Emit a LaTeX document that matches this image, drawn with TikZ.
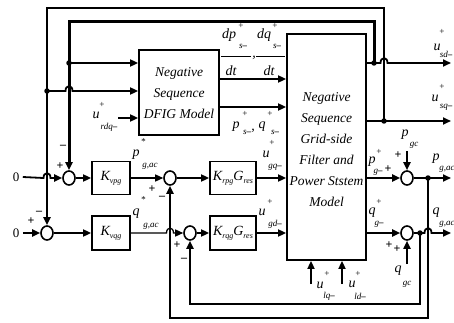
\documentclass[tikz,border=0pt]{standalone}
\usepackage{fontspec}
\setmainfont{Liberation Serif}
\usetikzlibrary{arrows.meta,shapes.geometric}
\begin{document}
\begin{tikzpicture}[x=1pt,y=-1pt,
 wire/.style={line width=1.8pt},
 arr/.style={wire,-{Triangle[length=8pt,width=7pt]}},
 blk/.style={draw,line width=1.8pt,inner sep=0},
 sumc/.style={draw,ellipse,line width=1.6pt,minimum width=12pt,minimum height=14pt,inner sep=0},
 dot/.style={circle,fill,inner sep=0,minimum size=5.5pt},
 big/.style={font=\fontsize{14}{14}\selectfont\itshape,inner sep=0},
 sml/.style={font=\fontsize{9}{9}\selectfont\itshape,inner sep=0},
 sgn/.style={font=\fontsize{12}{12}\selectfont\bfseries,inner sep=0},
 btxt/.style={font=\fontsize{13.5}{21}\selectfont\itshape,align=center,inner sep=0}
]
\useasboundingbox (0,0) rectangle (454,323);

% blocks
\node[blk,minimum width=80pt,minimum height=85pt] (dfig) at (179,92.5) {};
\node[btxt] (dfigt) at (179,93) {Negative\\Sequence\\DFIG Model};
\node[blk,minimum width=79pt,minimum height=226pt] (grid) at (326.5,147) {};
\node[btxt] (gridt) at (326.5,150) {Negative\\Sequence\\Grid-side\\Filter and\\Power Ststem\\Model};
\node[blk,minimum width=38pt,minimum height=33pt,font=\fontsize{14}{14}\selectfont\itshape] (kvpg) at (111,178) {K\raisebox{-3pt}{\fontsize{8}{8}\selectfont vpg}};
\node[blk,minimum width=38pt,minimum height=34pt,font=\fontsize{14}{14}\selectfont\itshape] (kvqg) at (111,233) {K\raisebox{-3pt}{\fontsize{8}{8}\selectfont vqg}};
\node[blk,minimum width=46pt,minimum height=33pt,font=\fontsize{14}{14}\selectfont\itshape] (krpg) at (233,178) {K\raisebox{-3pt}{\fontsize{8}{8}\selectfont rpg}G\raisebox{-3pt}{\fontsize{8}{8}\selectfont res}};
\node[blk,minimum width=46pt,minimum height=34pt,font=\fontsize{14}{14}\selectfont\itshape] (krqg) at (233,233) {K\raisebox{-3pt}{\fontsize{8}{8}\selectfont rqg}G\raisebox{-3pt}{\fontsize{8}{8}\selectfont res}};

% sums
\node[sumc] (s1) at (69,178) {};
\node[sumc] (s2) at (170,178) {};
\node[sumc] (s3) at (47,233) {};
\node[sumc] (s4) at (190,233) {};
\node[sumc] (s5) at (407,178) {};
\node[sumc] (s6) at (407,233) {};

% inputs
\node[font=\fontsize{13}{13}\selectfont] (z1) at (16,177) {0};
\node[font=\fontsize{13}{13}\selectfont] (z2) at (16,233) {0};

% helper coordinates
\coordinate (b1) at (69,63);
\coordinate (b2) at (47,91);
\coordinate (urdq) at (118,118);
\coordinate (y79) at (0,79);
\coordinate (y107) at (0,107);
\coordinate (usdd) at (374,63);
\coordinate (usqd) at (384,121);
\coordinate (usd) at (451,63);
\coordinate (usq) at (451,121);
\coordinate (pout) at (451,178);
\coordinate (qout) at (451,233);
\coordinate (pd) at (428,178);
\coordinate (qd) at (420,233);
\coordinate (pgc) at (407,151);
\coordinate (qgc) at (407,264);
\coordinate (ulq) at (311,284);
\coordinate (uld) at (342,284);

% top feedback loops
\draw[arr,line width=2.4pt] (usqd) -- (384,8) -- (47,8) -- (s3.north);
\draw[arr,line width=3pt] (usdd) -- (374,22) -- (69,22) -- (s1.north);

% into DFIG
\draw[arr] (b1) -- (b1 -| dfig.west);
\draw[arr] (b2) -- (65.5,91) .. controls (65.5,84.5) and (72.5,84.5) .. (72.5,91) -- (b2 -| dfig.west);
\draw[arr] (urdq) -- (urdq -| dfig.west);

% DFIG -> grid
\draw[arr] (dfig.east |- y79) -- (grid.west |- y79);
\draw[arr] (dfig.east |- y107) -- (grid.west |- y107);

% grid outputs
\draw[arr] (grid.east |- usd) -- (380.5,63) .. controls (380.5,56.5) and (387.5,56.5) .. (387.5,63) -- (usd);
\draw[arr] (grid.east |- usq) -- (usq);

% upper row
\draw[arr] (z1.east) -- (43.5,178) .. controls (43.5,171.5) and (50.5,171.5) .. (50.5,178) -- (s1);
\draw[arr] (s1) -- (kvpg);
\draw[arr,line width=1.3pt] (kvpg) -- (s2);
\draw[arr] (s2) -- (krpg);
\draw[arr] (krpg) -- (krpg -| grid.west);
\draw[arr] (grid.east |- s5) -- (s5);
\draw[arr] (s5) -- (pout);
\draw[arr] (pd) -- (428,318) -- (170,318) -- (s2.south);
\draw[arr] (pgc) -- (s5.north);

% lower row
\draw[arr] (z2.east) -- (s3);
\draw[arr] (s3) -- (kvqg);
\draw[arr,line width=1.3pt] (kvqg) -- (166.5,233) .. controls (166.5,226.5) and (173.5,226.5) .. (173.5,233) -- (s4);
\draw[arr] (s4) -- (krqg);
\draw[arr] (krqg) -- (krqg -| grid.west);
\draw[arr] (grid.east |- s6) -- (s6);
\draw[arr] (s6) -- (424.5,233) .. controls (424.5,226.5) and (431.5,226.5) .. (431.5,233) -- (qout);
\draw[arr] (qd) -- (420,304) -- (190,304) -- (s4.south);
\draw[arr] (qgc) -- (s6.south);

% bottom inputs
\draw[arr] (ulq) -- (ulq |- grid.south);
\draw[arr] (uld) -- (uld |- grid.south);

% dots
\foreach \p in {b1,b2,usdd,usqd,pd,qd} \node[dot] at (\p) {};

% signs
\node[sgn] at (63,147) {--};
\node[sgn] at (60,166) {+};
\node[sgn] at (39,213) {--};
\node[sgn] at (31,221) {+};
\node[sgn] at (152,189) {+};
\node[sgn] at (162,198) {--};
\node[sgn] at (177,245) {+};
\node[sgn] at (184,260) {--};
\node[sgn] at (398,155) {+};
\node[sgn] at (388,169) {+};
\node[sgn] at (389,245) {+};
\node[sgn] at (397,249) {+};

% labels
\node[big] at (96,115) {u};
\node[sml] at (102,105) {+};
\node[sml] at (109,127) {rdq\textbf{--}};

\node[big] at (229,35) {dp};
\node[sml] at (241,26) {+};
\node[sml] at (243,46) {s\textbf{--}};
\draw[line width=0.6pt] (221,56) -- (251,56);
\node[big] at (231,71) {dt};
\node[big] at (254,58) {,};
\node[big] at (264,35) {dq};
\node[sml] at (275,26) {+};
\node[sml] at (277,46) {s\textbf{--}};
\draw[line width=0.6pt] (256,56) -- (285,56);
\node[big] at (269,71) {dt};

\node[big] at (236,127) {p};
\node[sml] at (245,114) {+};
\node[sml] at (247,132) {s\textbf{--}};
\node[big] at (253,131) {,};
\node[big] at (262,127) {q};
\node[sml] at (270,114) {+};
\node[sml] at (275,132) {s\textbf{--}};

\node[big] at (266,154) {u};
\node[sml] at (272,143) {+};
\node[sml] at (275,167) {gq\textbf{--}};

\node[big] at (136,155) {p};
\node[sml] at (143,142) {*};
\node[sml] at (150,166) {g,ac};
\node[big] at (136,214) {q};
\node[sml] at (143,200) {*};
\node[sml] at (151,226) {g,ac};

\node[big] at (262,212) {u};
\node[sml] at (270,202) {+};
\node[sml] at (275,224) {gd\textbf{--}};

\node[big] at (372,162) {p};
\node[sml] at (379,152) {+};
\node[sml] at (378,172) {g\textbf{--}};
\node[big] at (372,213) {q};
\node[sml] at (379,202) {+};
\node[sml] at (379,224) {g\textbf{--}};

\node[big] at (405,135) {p};
\node[sml] at (414,145) {gc};
\node[big] at (398,271) {q};
\node[sml] at (407,284) {gc};

\node[big] at (320,285) {u};
\node[sml] at (327,274) {+};
\node[sml] at (329,296) {lq\textbf{--}};
\node[big] at (352,284) {u};
\node[sml] at (358,274) {+};
\node[sml] at (360,296) {ld\textbf{--}};

\node[big] at (437,47) {u};
\node[sml] at (442,32) {+};
\node[sml] at (446,54) {sd\textbf{--}};
\node[big] at (435,98) {u};
\node[sml] at (442,87) {+};
\node[sml] at (446,107) {sq\textbf{--}};

\node[big] at (436,159) {p};
\node[sml] at (447,169) {g,ac};
\node[big] at (436,213) {q};
\node[sml] at (447,224) {g,ac};
\end{tikzpicture}
\end{document}
